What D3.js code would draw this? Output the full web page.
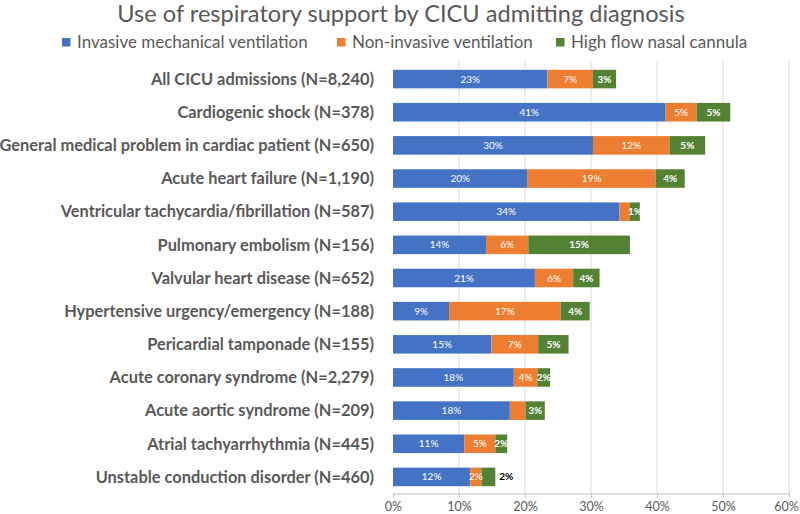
<!DOCTYPE html>
<html><head><meta charset="utf-8">
<script src="https://cdn.jsdelivr.net/npm/d3@7"></script>
<style>body{margin:0;background:#fff}</style>
</head><body>
<svg id="c" width="800" height="514"></svg>
<script>
const categories = [
  "All CICU admissions (N=8,240)",
  "Cardiogenic shock (N=378)",
  "General medical problem in cardiac patient (N=650)",
  "Acute heart failure (N=1,190)",
  "Ventricular tachycardia/fibrillation (N=587)",
  "Pulmonary embolism (N=156)",
  "Valvular heart disease (N=652)",
  "Hypertensive urgency/emergency (N=188)",
  "Pericardial tamponade (N=155)",
  "Acute coronary syndrome (N=2,279)",
  "Acute aortic syndrome (N=209)",
  "Atrial tachyarrhythmia (N=445)",
  "Unstable conduction disorder (N=460)"
];
const seriesNames = ["Invasive mechanical ventilation","Non-invasive ventilation","High flow nasal cannula"];
const imv  = [23.4, 41.3, 30.3, 20.4, 34.3, 14.1, 21.5, 8.5, 14.9, 18.3, 17.7, 10.8, 11.7];
const niv  = [6.9, 4.7, 11.6, 19.4, 1.6, 6.4, 5.8, 16.9, 7.1, 3.6, 2.4, 4.7, 1.7];
const hfnc = [3.5, 5.1, 5.4, 4.4, 1.5, 15.4, 4.0, 4.4, 4.6, 1.9, 2.9, 1.8, 2.1];
const imvLabels  = ["23%","41%","30%","20%","34%","14%","21%","9%","15%","18%","18%","11%","12%"];
const nivLabels  = ["7%","5%","12%","19%","","6%","6%","17%","7%","4%","","5%","2%"];
const hfncLabels = ["3%","5%","5%","4%","1%","15%","4%","4%","5%","2%","3%","2%","2%"];
const xTicks = [0,10,20,30,40,50,60];
const colors = ["#4472C4","#ED7D31","#548235"];

const svg = d3.select("#c");
const font = "Lato, 'Open Sans', sans-serif";
const grey = "#595959";
const x = d3.scaleLinear().domain([0,60]).range([393,789]);
const y = d3.scaleBand().domain(categories).range([62.5,493.5]).paddingInner(0.44).paddingOuter(0.22);

// title
svg.append("text").attr("x",401).attr("y",22).attr("text-anchor","middle")
  .attr("font-family",font).attr("font-size",23.6).attr("fill",grey)
  .text("Use of respiratory support by CICU admitting diagnosis");

// legend
const legX = [62,337,556];
seriesNames.forEach((n,i)=>{
  svg.append("rect").attr("x",legX[i]).attr("y",38).attr("width",8.5).attr("height",8.5).attr("fill",colors[i]);
  svg.append("text").attr("x",legX[i]+15).attr("y",48).attr("font-family",font)
    .attr("font-size",17).attr("fill",grey).text(n);
});

// gridlines
svg.append("g").selectAll("line").data(xTicks.slice(1)).join("line")
  .attr("x1",d=>x(d)).attr("x2",d=>x(d)).attr("y1",62).attr("y2",493.5)
  .attr("stroke","#d9d9d9").attr("stroke-width",1);

// axis
const ax = svg.append("g").attr("transform","translate(0,493.5)")
  .call(d3.axisBottom(x).tickValues(xTicks).tickFormat(d=>d+"%").tickSize(4).tickSizeOuter(0));
ax.select(".domain").attr("stroke","#bfbfbf");
ax.selectAll(".tick line").attr("stroke","#bfbfbf");
ax.selectAll(".tick text").attr("font-family",font).attr("font-size",12.5).attr("fill",grey).attr("dy","0.85em")
  .attr("dx",d=>d===60?-3:0);

// stacked data
const rows = categories.map((c,i)=>({cat:c, vals:[imv[i],niv[i],hfnc[i]], labs:[imvLabels[i],nivLabels[i],hfncLabels[i]]}));
const segs = [];
rows.forEach((r,ri)=>{
  let s=0;
  r.vals.forEach((v,k)=>{segs.push({cat:r.cat,k,x0:s,x1:s+v,lab:r.labs[k],ri}); s+=v;});
});
svg.append("g").selectAll("rect").data(segs).join("rect")
  .attr("x",d=>x(d.x0)).attr("width",d=>x(d.x1)-x(d.x0))
  .attr("y",d=>y(d.cat)).attr("height",y.bandwidth())
  .attr("fill",d=>colors[d.k]);

// data labels
const isOut = d => d.ri===categories.length-1 && d.k===2;
svg.append("g").selectAll("text").data(segs.filter(d=>d.lab)).join("text")
  .attr("x",d=> isOut(d) ? x(d.x1)+4 : (x(d.x0)+x(d.x1))/2)
  .attr("y",d=>y(d.cat)+y.bandwidth()/2)
  .attr("dy","0.35em")
  .attr("text-anchor",d=>isOut(d)?"start":"middle")
  .attr("font-family",font).attr("font-size",10)
  .attr("font-weight",d=>d.k===2?"bold":"normal")
  .attr("fill",d=>isOut(d)?"#000":"#fff")
  .text(d=>d.lab);

// category labels
svg.append("g").selectAll("text").data(categories).join("text")
  .attr("x",374).attr("y",d=>y(d)+y.bandwidth()/2).attr("dy","0.35em")
  .attr("text-anchor","end").attr("font-family",font).attr("font-size",16.4)
  .attr("font-weight","bold").attr("fill",grey).text(d=>d);
</script>
</body></html>
